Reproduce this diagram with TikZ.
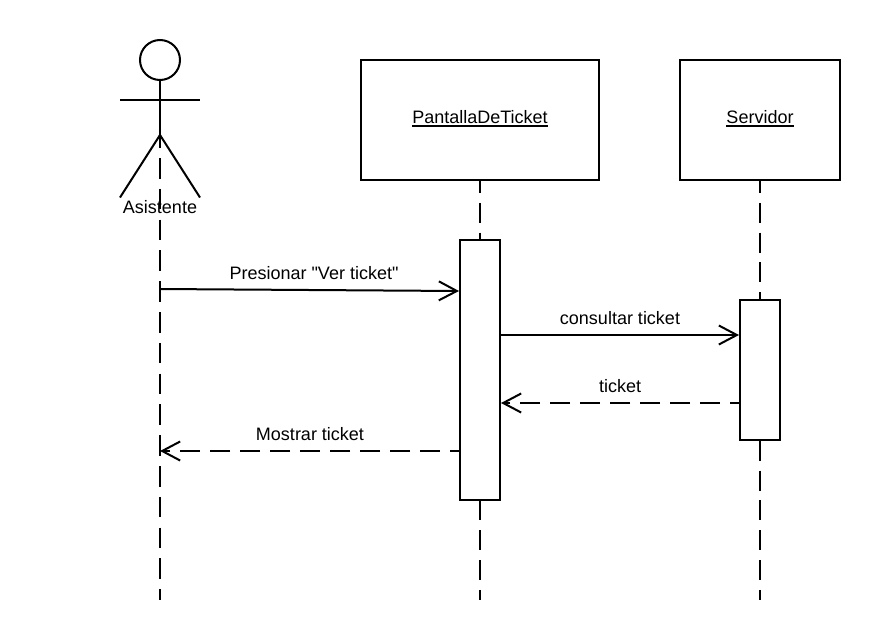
\documentclass[tikz,border=0pt]{standalone}
\usepackage{fontspec}
\newfontfamily\plainsans{Liberation Sans}
\usetikzlibrary{arrows.meta}
\newcommand\ulbl[1]{\vtop{\hbox{#1}\kern1.3pt\hrule height 1.6pt}}
\tikzset{
  x=1pt,y=-1pt,
  every path/.style={line width=2pt,line join=miter},
  lbl/.style={inner sep=0pt,font=\plainsans\fontsize{18}{20}\selectfont,anchor=base},
  objbox/.style={draw=black,fill=white,inner sep=0pt,font=\plainsans\fontsize{18}{20}\selectfont,text height=9.4pt,text depth=2pt},
  actbox/.style={draw=black,fill=white,inner sep=0pt,minimum width=40pt},
  lifeline/.style={draw=black,dash pattern=on 20pt off 9.77pt,dash phase=8pt},
  actorline/.style={draw=black,dash pattern=on 20.5pt off 10.3pt,dash phase=3.6pt},
  msg/.style={draw=black,-{Straight Barb[length=18pt,width=19pt,line width=2pt]},shorten >=0pt},
  ret/.style={msg,dash pattern=on 20pt off 10pt,dash phase=10pt},
}
\begin{document}
\begin{tikzpicture}
\useasboundingbox (0,0) rectangle (880,640);
% lifeline ends
\coordinate (actorTop) at (160,100);
\coordinate (actorEnd) at (160,600);
\coordinate (panEnd) at (480,600);
\coordinate (srvEnd) at (760,600);
% objects
\node[objbox,minimum width=238pt,minimum height=120pt] (pan) at (480,120) {\ulbl{PantallaDeTicket}};
\node[objbox,minimum width=160pt,minimum height=120pt] (srv) at (760,120) {\ulbl{Servidor}};
% lifelines
\draw[actorline] (actorTop) -- (actorEnd);
\draw[lifeline] (pan.south) -- (panEnd);
\draw[lifeline] (srv.south) -- (srvEnd);
% activations
\node[actbox,minimum height=260pt] (panAct) at (480,370) {};
\node[actbox,minimum height=140pt] (srvAct) at (760,370) {};
% actor
\node[draw=black,circle,minimum size=40pt,inner sep=0pt] (head) at (160,60) {};
\coordinate (hip) at (160,135);
\coordinate (armL) at (120,99.5);
\coordinate (armR) at (200,99.5);
\coordinate (legL) at (120,197.5);
\coordinate (legR) at (200,197.5);
\draw[line cap=butt] (head.south) -- (hip);
\draw (armL) -- (armR);
\draw (legL) -- (hip) -- (legR);
\node[lbl] (actorName) at (160,213) {Asistente};
% messages
\coordinate (m1s) at (160,289);
\coordinate (m1e) at (459,291);
\draw[msg] (m1s) -- (m1e);
\node[lbl] (m1) at (314,279) {Presionar "Ver ticket"};
\coordinate (m2s) at (500,335);
\coordinate (m2e) at (739,335);
\draw[msg] (m2s) -- (m2e);
\node[lbl] (m2) at (620,324) {consultar ticket};
\coordinate (m3s) at (740,403);
\coordinate (m3e) at (501,403);
\draw[ret] (m3s) -- (m3e);
\node[lbl] (m3) at (620,392) {ticket};
\coordinate (m4s) at (460,451);
\coordinate (m4e) at (160,451);
\draw[ret] (m4s) -- (m4e);
\node[lbl] (m4) at (310,440) {Mostrar ticket};
\end{tikzpicture}
\end{document}
